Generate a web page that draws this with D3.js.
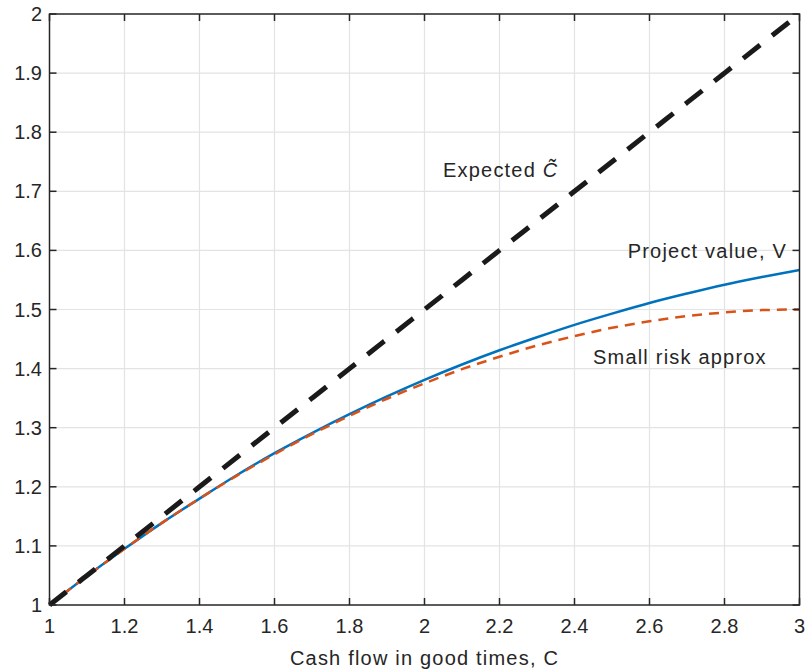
<!DOCTYPE html>
<meta charset="utf-8">
<style>
body { margin: 0; background: #fff; }
text { font-family: "Liberation Sans", Arial, sans-serif; fill: #262626; }
</style>
<svg width="805" height="671"></svg>
<script src="https://d3js.org/d3.v7.min.js"></script>
<script>
// cash flow in good times, C
var cVals = [1, 1.1, 1.2, 1.3, 1.4, 1.5, 1.6, 1.7, 1.8, 1.9, 2, 2.1, 2.2, 2.3, 2.4, 2.5, 2.6, 2.7, 2.8, 2.9, 3]
var expectedVals = [1, 1.05, 1.1, 1.15, 1.2, 1.25, 1.3, 1.35, 1.4, 1.45, 1.5, 1.55, 1.6, 1.65, 1.7, 1.75, 1.8, 1.85, 1.9, 1.95, 2]
var projectVals = [1, 1.049, 1.095, 1.139, 1.18, 1.22, 1.257, 1.291, 1.323, 1.353, 1.381, 1.407, 1.431, 1.453, 1.474, 1.493, 1.511, 1.527, 1.542, 1.555, 1.567]
var approxVals = [1, 1.049, 1.095, 1.139, 1.18, 1.219, 1.255, 1.289, 1.32, 1.349, 1.375, 1.399, 1.42, 1.439, 1.455, 1.469, 1.48, 1.489, 1.495, 1.499, 1.5]
var xTicks = [1, 1.2, 1.4, 1.6, 1.8, 2, 2.2, 2.4, 2.6, 2.8, 3]
var yTicks = [1, 1.1, 1.2, 1.3, 1.4, 1.5, 1.6, 1.7, 1.8, 1.9, 2]

var svg = d3.select("svg"),
    plotL = 49.5, plotR = 799.5, plotT = 14, plotB = 605

var x = d3.scaleLinear().domain([1, 3]).range([plotL, plotR])
var y = d3.scaleLinear().domain([1, 2]).range([plotB, plotT])

// grid
svg.append("g").selectAll("line").data(xTicks.slice(1, -1))
  .enter().append("line")
  .attr("x1", d => x(d)).attr("x2", d => x(d))
  .attr("y1", plotT).attr("y2", plotB)
  .attr("stroke", "#e3e3e3").attr("stroke-width", 1.2)
svg.append("g").selectAll("line").data(yTicks.slice(1, -1))
  .enter().append("line")
  .attr("y1", d => y(d)).attr("y2", d => y(d))
  .attr("x1", plotL).attr("x2", plotR)
  .attr("stroke", "#e3e3e3").attr("stroke-width", 1.2)

function series(vals) {
  return d3.line().curve(d3.curveMonotoneX)
    .x((d, i) => x(cVals[i])).y(d => y(d))(vals)
}

svg.append("path").attr("d", series(projectVals))
  .attr("fill", "none").attr("stroke", "#0072BD").attr("stroke-width", 2.5)
svg.append("path").attr("d", series(approxVals))
  .attr("fill", "none").attr("stroke", "#D95319").attr("stroke-width", 2.5)
  .attr("stroke-dasharray", "10,7")
svg.append("path").attr("d", series(expectedVals))
  .attr("fill", "none").attr("stroke", "#1a1a1a").attr("stroke-width", 5)
  .attr("stroke-dasharray", "21.5,15.3")

// axes box with inward ticks
var ax = svg.append("g").attr("stroke", "#262626").attr("stroke-width", 1.5)
ax.append("rect").attr("x", plotL).attr("y", plotT)
  .attr("width", plotR - plotL).attr("height", plotB - plotT).attr("fill", "none")
xTicks.forEach(function(t) {
  ax.append("line").attr("x1", x(t)).attr("x2", x(t)).attr("y1", plotB).attr("y2", plotB - 7)
  ax.append("line").attr("x1", x(t)).attr("x2", x(t)).attr("y1", plotT).attr("y2", plotT + 7)
})
yTicks.forEach(function(t) {
  ax.append("line").attr("y1", y(t)).attr("y2", y(t)).attr("x1", plotL).attr("x2", plotL + 7)
  ax.append("line").attr("y1", y(t)).attr("y2", y(t)).attr("x1", plotR).attr("x2", plotR - 7)
})

svg.append("g").selectAll("text").data(xTicks)
  .enter().append("text")
  .attr("x", d => x(d)).attr("y", 633)
  .attr("text-anchor", "middle").attr("font-size", 20)
  .text(d => d3.format("~g")(d))
svg.append("g").selectAll("text").data(yTicks)
  .enter().append("text")
  .attr("x", 42).attr("y", d => y(d) + 7)
  .attr("text-anchor", "end").attr("font-size", 20)
  .text(d => d3.format("~g")(d))

svg.append("text").attr("x", (plotL + plotR) / 2).attr("y", 665)
  .attr("text-anchor", "middle").attr("font-size", 20).attr("letter-spacing", 1.2)
  .text("Cash flow in good times, C")

// annotations
var exp = svg.append("text").attr("x", 443).attr("y", 177)
  .attr("font-size", 20).attr("letter-spacing", 1.2)
exp.append("tspan").text("Expected ")
exp.append("tspan").attr("font-style", "italic").text("C\u0303")
svg.append("text").attr("x", 787).attr("y", 258).attr("text-anchor", "end")
  .attr("font-size", 20).attr("letter-spacing", 1.2).text("Project value, V")
svg.append("text").attr("x", 593).attr("y", 364)
  .attr("font-size", 20).attr("letter-spacing", 1.2).text("Small risk approx")
</script>
